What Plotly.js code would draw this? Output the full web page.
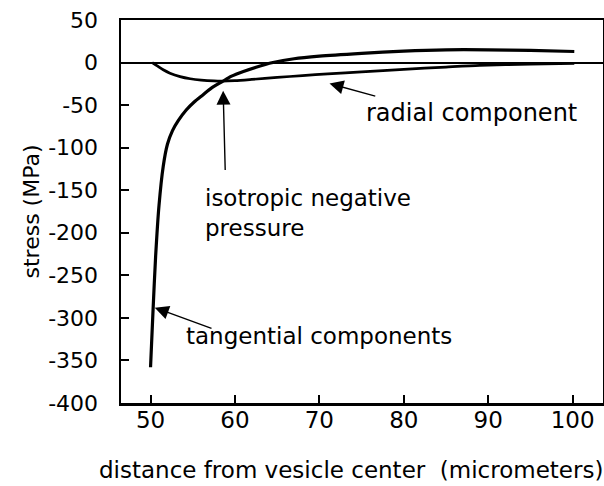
<!DOCTYPE html>
<html>
<head>
<meta charset="utf-8">
<script src="https://cdn.plot.ly/plotly-3.0.1.min.js"></script>
<style>html,body{margin:0;padding:0;background:#fff;}#chart{width:604px;height:486px;}</style>
</head>
<body>
<div id="chart"></div>
<script>
// Tangential stress component (MPa) vs distance from vesicle center (micrometers)
var tangX = [50.0, 50.3, 50.6, 51.0, 51.5, 52.0, 52.6, 53.3, 54.2, 55.2, 56.2, 57.2, 58.4, 59.6, 61.0, 62.5, 64.5, 67, 70, 75, 80, 85, 90, 95, 100.2];
var tangY = [-358, -290, -228, -168, -122, -96, -80, -68, -56, -46, -38, -30, -23, -16, -10.5, -5.5, 0, 4.5, 7.5, 10.8, 13.5, 15, 15, 14.2, 13];

// Radial stress component
var radX = [50.2, 50.8, 51.5, 52.3, 53.5, 54.7, 56, 57.5, 58.5, 60, 62, 65, 68, 71, 75, 80, 85, 89, 95, 100.2];
var radY = [0, -4, -8.5, -12.5, -16.5, -19, -20.6, -21.6, -21.8, -21.2, -19.8, -17.5, -15.3, -13.2, -11, -8, -5.3, -3.3, -2, -1];

var xTicks = [50, 60, 70, 80, 90, 100];
var yTicks = [50, 0, -50, -100, -150, -200, -250, -300, -350, -400];

var labels = ["radial component", "isotropic negative<br>pressure", "tangential components"];
var xTitle = "distance from vesicle center\u00a0\u00a0(micrometers)";
var yTitle = "stress (MPa)";

var FONT = "DejaVu Sans, Arial, sans-serif";

var traces = [
  {x: tangX, y: tangY, mode: "lines", line: {color: "#000", width: 3.2, shape: "spline", smoothing: 0.7}, name: "tangential", hoverinfo: "skip"},
  {x: radX, y: radY, mode: "lines", line: {color: "#000", width: 2.7, shape: "spline", smoothing: 0.7}, name: "radial", hoverinfo: "skip"}
];

function arrow(tipX, tipY, tailX, tailY) {
  return {x: tipX, y: tipY, ax: tailX, ay: tailY, xref: "x", yref: "y", axref: "x", ayref: "y",
          text: "", showarrow: true, arrowhead: 2, arrowsize: 2, arrowwidth: 1.4, arrowcolor: "#000"};
}
function label(txt, x, y, size) {
  return {x: x, y: y, xref: "x", yref: "y", text: txt, showarrow: false, xanchor: "left", yanchor: "middle", align: "left",
          font: {family: FONT, size: size, color: "#000"}};
}

var layout = {
  width: 604, height: 486,
  margin: {l: 121, r: 1, t: 20, b: 83},
  paper_bgcolor: "#fff", plot_bgcolor: "#fff",
  showlegend: false,
  font: {family: FONT, color: "#000", size: 22},
  xaxis: {
    range: [46.5, 103.6], tickvals: xTicks, ticktext: xTicks.map(String),
    ticks: "inside", ticklen: 8, tickwidth: 2, tickcolor: "#000",
    showline: true, mirror: true, linewidth: 2.5, linecolor: "#000",
    showgrid: false, zeroline: false, ticklabelstandoff: -5,
    tickfont: {family: FONT, size: 23, color: "#000"}
  },
  yaxis: {
    range: [-400, 50], tickvals: yTicks, ticktext: yTicks.map(String),
    ticks: "inside", ticklen: 8, tickwidth: 2, tickcolor: "#000",
    showline: true, mirror: true, linewidth: 2.5, linecolor: "#000",
    showgrid: false, zeroline: true, zerolinecolor: "#000", zerolinewidth: 2,
    ticklabelstandoff: 16,
    tickfont: {family: FONT, size: 22, color: "#000"},
    title: {text: yTitle, font: {family: FONT, size: 22, color: "#000"}, standoff: 3}
  },
  annotations: [
    arrow(71.2, -24.7, 76.8, -40),
    arrow(58.6, -33, 58.85, -128),
    arrow(50.5, -288, 57.4, -313),
    label(labels[0], 75.3, -59, 24),
    label(labels[1], 56.2, -177, 23),
    label(labels[2], 54.0, -321, 23),
    {x: 0.478, y: -0.175, xref: "paper", yref: "paper", text: xTitle, showarrow: false,
     xanchor: "center", yanchor: "middle", font: {family: FONT, size: 23, color: "#000"}}
  ]
};

Plotly.newPlot("chart", traces, layout, {displayModeBar: false, staticPlot: true});
</script>
</body>
</html>
